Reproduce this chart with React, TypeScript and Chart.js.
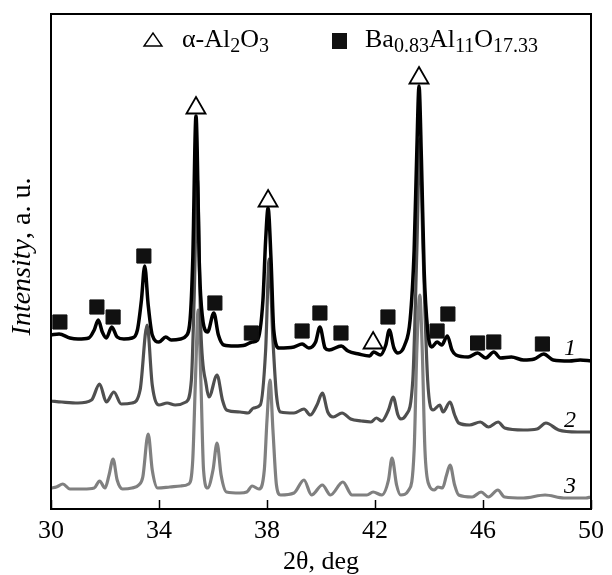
import React, { useEffect, useRef } from "react";
import { Chart, registerables } from "chart.js";

Chart.register(...registerables);

const FONT = '"Liberation Serif", "Times New Roman", serif';

// x-axis tick values (2θ, deg)
const X_TICKS = [30, 34, 38, 42, 46, 50];

// curve 1 (black)
const curve1X = [30.0, 30.3, 30.7, 31.0, 31.4, 31.6, 31.75, 31.9, 32.05, 32.25, 32.45, 32.7, 33.0, 33.2, 33.35, 33.47, 33.6, 33.75, 34.0, 34.25, 34.45, 34.8, 35.0, 35.15, 35.25, 35.37, 35.5, 35.6, 35.8, 36.03, 36.2, 36.4, 36.8, 37.2, 37.45, 37.65, 37.85, 37.95, 38.04, 38.15, 38.25, 38.45, 39.0, 39.3, 39.55, 39.8, 39.96, 40.15, 40.3, 40.75, 41.0, 41.4, 41.8, 41.95, 42.2, 42.4, 42.53, 42.7, 42.85, 43.1, 43.3, 43.45, 43.55, 43.63, 43.72, 43.82, 43.95, 44.1, 44.3, 44.47, 44.68, 44.85, 45.0, 45.45, 45.8, 46.1, 46.4, 46.65, 47.05, 47.5, 47.9, 48.25, 48.6, 49.2, 49.6, 50.0];
const curve1Y = [174, 175, 171, 170, 171, 179, 189, 177, 171, 182, 172, 170, 171, 179, 209, 243, 204, 174, 167, 172, 169, 170, 173, 189, 249, 393, 239, 194, 177, 196, 174, 164, 163, 164, 167, 169, 209, 269, 301, 249, 179, 161, 162, 165, 161, 167, 182, 161, 159, 163, 158, 155, 153, 157, 154, 164, 179, 161, 156, 164, 189, 259, 359, 423, 349, 239, 179, 162, 167, 164, 173, 159, 154, 152, 156, 151, 157, 151, 152, 149, 150, 155, 149, 148, 149, 148];

// curve 2 (dark grey)
const curve2X = [30.0, 30.4, 31.0, 31.5, 31.8, 32.05, 32.33, 32.6, 33.0, 33.3, 33.56, 33.75, 34.0, 34.3, 34.6, 35.0, 35.2, 35.3, 35.42, 35.55, 35.75, 35.85, 36.15, 36.35, 36.5, 37.0, 37.3, 37.5, 37.75, 37.95, 38.08, 38.22, 38.35, 38.5, 39.0, 39.37, 39.6, 39.85, 40.05, 40.25, 40.45, 40.78, 41.1, 41.5, 41.85, 42.05, 42.25, 42.5, 42.67, 42.85, 42.95, 43.15, 43.4, 43.55, 43.66, 43.78, 43.95, 44.15, 44.4, 44.52, 44.78, 44.95, 45.1, 45.5, 45.9, 46.2, 46.56, 46.8, 47.5, 48.0, 48.33, 48.8, 49.5, 50.0];
const curve2Y = [108, 107, 106, 109, 125, 107, 117, 105, 106, 119, 184, 124, 104, 106, 104, 107, 129, 209, 330, 179, 124, 112, 134, 109, 99, 97, 96, 101, 104, 159, 250, 169, 114, 97, 96, 100, 94, 104, 116, 97, 92, 96, 90, 88, 87, 91, 88, 99, 112, 94, 90, 94, 129, 259, 370, 259, 129, 99, 104, 97, 107, 94, 86, 84, 87, 82, 87, 81, 79, 80, 86, 79, 77, 77];

// curve 3 (light grey)
const curve3X = [30.0, 30.2, 30.44, 30.7, 31.2, 31.6, 31.8, 32.0, 32.15, 32.3, 32.45, 32.65, 33.0, 33.25, 33.4, 33.6, 33.75, 33.95, 34.4, 34.8, 35.1, 35.25, 35.35, 35.45, 35.55, 35.65, 35.8, 36.0, 36.15, 36.3, 36.5, 37.0, 37.25, 37.45, 37.7, 37.9, 38.0, 38.11, 38.22, 38.35, 38.5, 39.0, 39.37, 39.65, 40.05, 40.35, 40.81, 41.15, 41.7, 41.93, 42.25, 42.5, 42.63, 42.8, 42.95, 43.25, 43.45, 43.55, 43.66, 43.75, 43.85, 44.0, 44.2, 44.33, 44.5, 44.65, 44.78, 44.95, 45.1, 45.6, 45.93, 46.2, 46.55, 46.8, 47.5, 48.3, 49.0, 49.8, 50.0];
const curve3Y = [21, 22, 25, 20, 20, 21, 28, 21, 34, 50, 29, 20, 21, 24, 32, 75, 39, 21, 22, 23, 25, 49, 129, 199, 129, 39, 21, 39, 66, 34, 17, 16, 17, 23, 20, 39, 89, 129, 79, 24, 14, 16, 29, 14, 24, 14, 27, 14, 14, 17, 14, 29, 51, 24, 14, 19, 59, 159, 214, 159, 59, 24, 19, 22, 21, 34, 44, 24, 14, 12, 17, 12, 19, 12, 11, 14, 11, 11, 12];

// phase markers
const aluminaX = [35.37, 38.04, 43.63, 41.93];
const aluminaY = [401, 308, 431, 166];
const hexaluminateX = [30.33, 31.7, 32.3, 33.44, 36.07, 37.42, 39.3, 39.96, 40.74, 42.48, 44.3, 44.7, 45.8, 46.4, 48.2];
const hexaluminateY = [187, 202, 192, 253, 206, 176, 178, 196, 176, 192, 178, 195, 166, 167, 165];

const CURVE_LABELS = ["1", "2", "3"];
const X_TITLE = "2θ, deg";
const Y_TITLE_ITALIC = "Intensity";
const Y_TITLE_REST = ", a. u.";

const zip = (xs: number[], ys: number[]) => xs.map((x, i) => ({ x, y: ys[i] }));

type Part = [string, string, number];
function drawRich(ctx: CanvasRenderingContext2D, x: number, y: number, parts: Part[]) {
  let cx = x;
  for (const [t, f, dy] of parts) {
    ctx.font = f;
    ctx.fillText(t, cx, y + dy);
    cx += ctx.measureText(t).width;
  }
}
function richWidth(ctx: CanvasRenderingContext2D, parts: Part[]) {
  let w = 0;
  for (const [t, f] of parts) {
    ctx.font = f;
    w += ctx.measureText(t).width;
  }
  return w;
}

const decorPlugin = {
  id: "decor",
  afterDraw(chart: any) {
    const { ctx, chartArea: a } = chart;
    const xs = chart.scales.x;
    ctx.save();
    // frame
    ctx.strokeStyle = "#000";
    ctx.lineWidth = 2;
    ctx.strokeRect(a.left, a.top, a.right - a.left, a.bottom - a.top);
    // inward ticks
    ctx.lineWidth = 1.5;
    for (const t of X_TICKS) {
      const px = Math.round(xs.getPixelForValue(t)) + 0.5;
      ctx.beginPath();
      ctx.moveTo(px, a.bottom);
      ctx.lineTo(px, a.bottom - 9);
      ctx.stroke();
    }
    ctx.fillStyle = "#000";
    ctx.textBaseline = "alphabetic";
    ctx.textAlign = "left";
    const main = `26px ${FONT}`;
    const sub = `20px ${FONT}`;
    // legend: alpha-Al2O3
    ctx.lineWidth = 1.4;
    ctx.beginPath();
    ctx.moveTo(144, 46);
    ctx.lineTo(162, 46);
    ctx.lineTo(153, 33);
    ctx.closePath();
    ctx.stroke();
    drawRich(ctx, 182, 47, [
      ["α-Al", main, 0],
      ["2", sub, 5],
      ["O", main, 0],
      ["3", sub, 5],
    ]);
    ctx.fillStyle = "#111";
    ctx.fillRect(332, 33, 15, 16);
    ctx.fillStyle = "#000";
    drawRich(ctx, 365, 47, [
      ["Ba", main, 0],
      ["0.83", sub, 5],
      ["Al", main, 0],
      ["11", sub, 5],
      ["O", main, 0],
      ["17.33", sub, 5],
    ]);
    // curve labels
    ctx.font = `italic 24px ${FONT}`;
    ctx.fillText(CURVE_LABELS[0], 564, 355);
    ctx.fillText(CURVE_LABELS[1], 564, 427);
    ctx.fillText(CURVE_LABELS[2], 564, 493);
    // x title
    ctx.font = `26px ${FONT}`;
    ctx.textAlign = "center";
    ctx.fillText(X_TITLE, (a.left + a.right) / 2, 569);
    // y title
    ctx.textAlign = "left";
    const yParts: Part[] = [
      [Y_TITLE_ITALIC, `italic 28px ${FONT}`, 0],
      [Y_TITLE_REST, `28px ${FONT}`, 0],
    ];
    const w = richWidth(ctx, yParts);
    ctx.translate(30, (a.top + a.bottom) / 2 - 5);
    ctx.rotate(-Math.PI / 2);
    drawRich(ctx, -w / 2, 0, yParts);
    ctx.restore();
  },
};

export default function App() {
  const ref = useRef<HTMLCanvasElement | null>(null);
  useEffect(() => {
    if (!ref.current) return;
    const chart = new Chart(ref.current, {
      type: "line",
      data: {
        datasets: [
          {
            label: "α-Al2O3",
            data: zip(aluminaX, aluminaY),
            showLine: false,
            pointStyle: "triangle",
            pointRadius: 11,
            pointBackgroundColor: "#fff",
            pointBorderColor: "#000",
            pointBorderWidth: 1.8,
          },
          {
            label: "Ba0.83Al11O17.33",
            data: zip(hexaluminateX, hexaluminateY),
            showLine: false,
            pointStyle: "rect",
            pointRadius: 10,
            pointBackgroundColor: "#111",
            pointBorderColor: "#111",
            pointBorderWidth: 1,
          },
          {
            label: "1",
            data: zip(curve1X, curve1Y),
            borderColor: "#000",
            borderWidth: 3.5,
            pointRadius: 0,
            cubicInterpolationMode: "monotone",
            fill: false,
          },
          {
            label: "2",
            data: zip(curve2X, curve2Y),
            borderColor: "#4f4f4f",
            borderWidth: 3.2,
            pointRadius: 0,
            cubicInterpolationMode: "monotone",
            fill: false,
          },
          {
            label: "3",
            data: zip(curve3X, curve3Y),
            borderColor: "#808080",
            borderWidth: 3.2,
            pointRadius: 0,
            cubicInterpolationMode: "monotone",
            fill: false,
          },
        ],
      },
      options: {
        responsive: false,
        animation: false,
        devicePixelRatio: 1,
        layout: { padding: { left: 51, right: 21, top: 14, bottom: 0 } },
        plugins: { legend: { display: false }, tooltip: { enabled: false } },
        scales: {
          x: {
            type: "linear",
            min: 30,
            max: 50,
            afterBuildTicks: (s: any) => {
              s.ticks = X_TICKS.map((v) => ({ value: v }));
            },
            afterFit: (s: any) => {
              s.height = 66;
            },
            ticks: {
              font: { family: FONT, size: 26 },
              color: "#000",
              padding: 7,
              maxRotation: 0,
              autoSkip: false,
            },
            grid: { display: false, drawTicks: false },
            border: { display: false },
          },
          y: { type: "linear", min: 0, max: 495, display: false },
        },
      },
      plugins: [decorPlugin],
    } as any);
    return () => chart.destroy();
  }, []);
  return (
    <div style={{ position: "absolute", left: 0, top: 0, width: 612, height: 575, background: "#fff" }}>
      <canvas ref={ref} width={612} height={575} style={{ display: "block" }} />
    </div>
  );
}
